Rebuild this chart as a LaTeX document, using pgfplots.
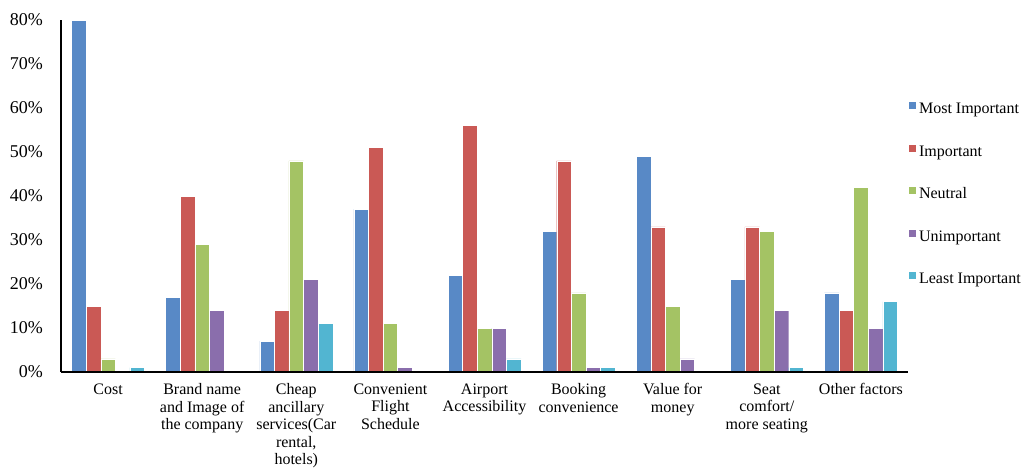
\documentclass[border=0pt]{standalone}
\usepackage{fontspec}
\setmainfont{Liberation Serif}
\usepackage{pgfplots}
\pgfplotsset{compat=1.18}
\usepackage{pgfplotstable}

\definecolor{cMost}{HTML}{5889C6}
\definecolor{cImp}{HTML}{CA5955}
\definecolor{cNeu}{HTML}{A4C364}
\definecolor{cUnimp}{HTML}{8A6EAC}
\definecolor{cLeast}{HTML}{52B5D1}

% share of respondents (%) per factor and rating
\pgfplotstableread{
idx most imp neu unimp least
0   80   15  3   0     1
1   17   40  29  14    0
2   7    14  48  21    11
3   37   51  11  1     0
4   22   56  10  10    3
5   32   48  18  1     1
6   49   33  15  3     0
7   21   33  32  14    1
8   18   14  42  10    16
}\factors

\pgfplotsset{
  sqlegend/.style={legend image code/.code={%
    \fill[##1, draw=none] (0pt,0.5pt) rectangle (7pt,7.5pt);}},
}

\begin{document}
\begin{tikzpicture}
\begin{axis}[
  at={(0pt,0pt)}, anchor=south west,
  scale only axis, width=847pt, height=352pt,
  xmin=-0.5, xmax=8.5, ymin=0, ymax=80,
  ybar=0pt, bar width=14.6pt,
  axis on top,
  axis x line=bottom, axis y line=left,
  axis line style={-, line width=1.3pt, black},
  xtick={0,...,8},
  xticklabels={Cost, {Brand name\\and Image of\\the company},
    {Cheap\\ancillary\\services(Car\\rental,\\hotels)},
    {Convenient\\Flight\\Schedule}, {Airport\\Accessibility},
    {Booking\\convenience}, {Value for\\money},
    {Seat\\comfort/\\more seating}, {Other factors}},
  xticklabel style={align=center, inner sep=0pt, yshift=-11.5pt,
    font=\fontsize{16}{17.4}\selectfont},
  ytick={0,10,...,80},
  major tick length=0pt,
  yticklabel={\pgfmathprintnumber{\tick}\%},
  /pgf/number format/assume math mode=true,
  yticklabel style={inner sep=0pt, xshift=-18pt,
    font=\fontsize{18}{20}\selectfont},
  legend cell align=left,
  legend style={at={(1.001,0.767)}, anchor=north west, draw=none,
    fill=none, inner sep=0pt, row sep=28pt,
    font=\fontsize{16}{18}\selectfont,
    nodes={text height=11pt, text depth=3pt, inner xsep=3pt, inner ysep=0pt}},
  clip=false,
  every axis plot/.append style={draw=white, line width=0.4pt},
]
\addplot[fill=cMost, sqlegend] table[x=idx, y=most] {\factors};
\addplot[fill=cImp, sqlegend] table[x=idx, y=imp] {\factors};
\addplot[fill=cNeu, sqlegend] table[x=idx, y=neu] {\factors};
\addplot[fill=cUnimp, sqlegend] table[x=idx, y=unimp] {\factors};
\addplot[fill=cLeast, sqlegend] table[x=idx, y=least] {\factors};
\legend{Most Important, Important, Neutral, Unimportant, Least Important}
\end{axis}
\pgfresetboundingbox
\path (-61pt,-96pt) rectangle (961pt,372pt);
\end{tikzpicture}
\end{document}
